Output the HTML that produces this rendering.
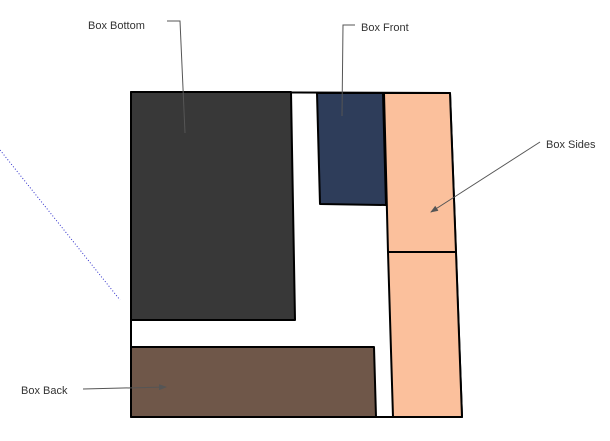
<!DOCTYPE html>
<html><head><style>
html,body{margin:0;padding:0;background:#fff;width:610px;height:441px;overflow:hidden}
svg{display:block}
text{font-family:"Liberation Sans",sans-serif;font-size:11px;fill:#333}
</style></head><body>
<svg width="610" height="441" viewBox="0 0 610 441">
<defs><marker id="a" markerWidth="8" markerHeight="6" refX="7" refY="3" orient="auto"><path d="M0,0L8,3L0,6z" fill="#555"/></marker></defs>
<line x1="0" y1="150" x2="120" y2="300" stroke="#33c" stroke-width="1" stroke-dasharray="1,2"/>
<g stroke="#000" stroke-width="2" stroke-linejoin="round">
<polygon points="131,92 450,93 462,417 131,417" fill="#fff"/>
<polygon points="131,92 291,92 295,320 131,320" fill="#383838"/>
<polygon points="317,93 383,93 386,205 320,204" fill="#2e3d5a"/>
<polygon points="384,93 450,93 456,252 388,252" fill="#fbc09c"/>
<polygon points="388,252 456,252 462,417 393,417" fill="#fbc09c"/>
<polygon points="131,347 374,347 376,417 131,417" fill="#6f5749"/>
</g>
<g stroke="#555" stroke-width="1" fill="none">
<polyline points="167,21 180,21 185,133"/>
<polyline points="355,25 343,25 342,116"/>
<line x1="540" y1="142" x2="431" y2="212" marker-end="url(#a)"/>
<line x1="83" y1="389" x2="166" y2="387" marker-end="url(#a)"/>
</g>
<text x="88" y="29">Box Bottom</text>
<text x="361" y="31">Box Front</text>
<text x="546" y="148">Box Sides</text>
<text x="21" y="394">Box Back</text>
</svg>
</body></html>
